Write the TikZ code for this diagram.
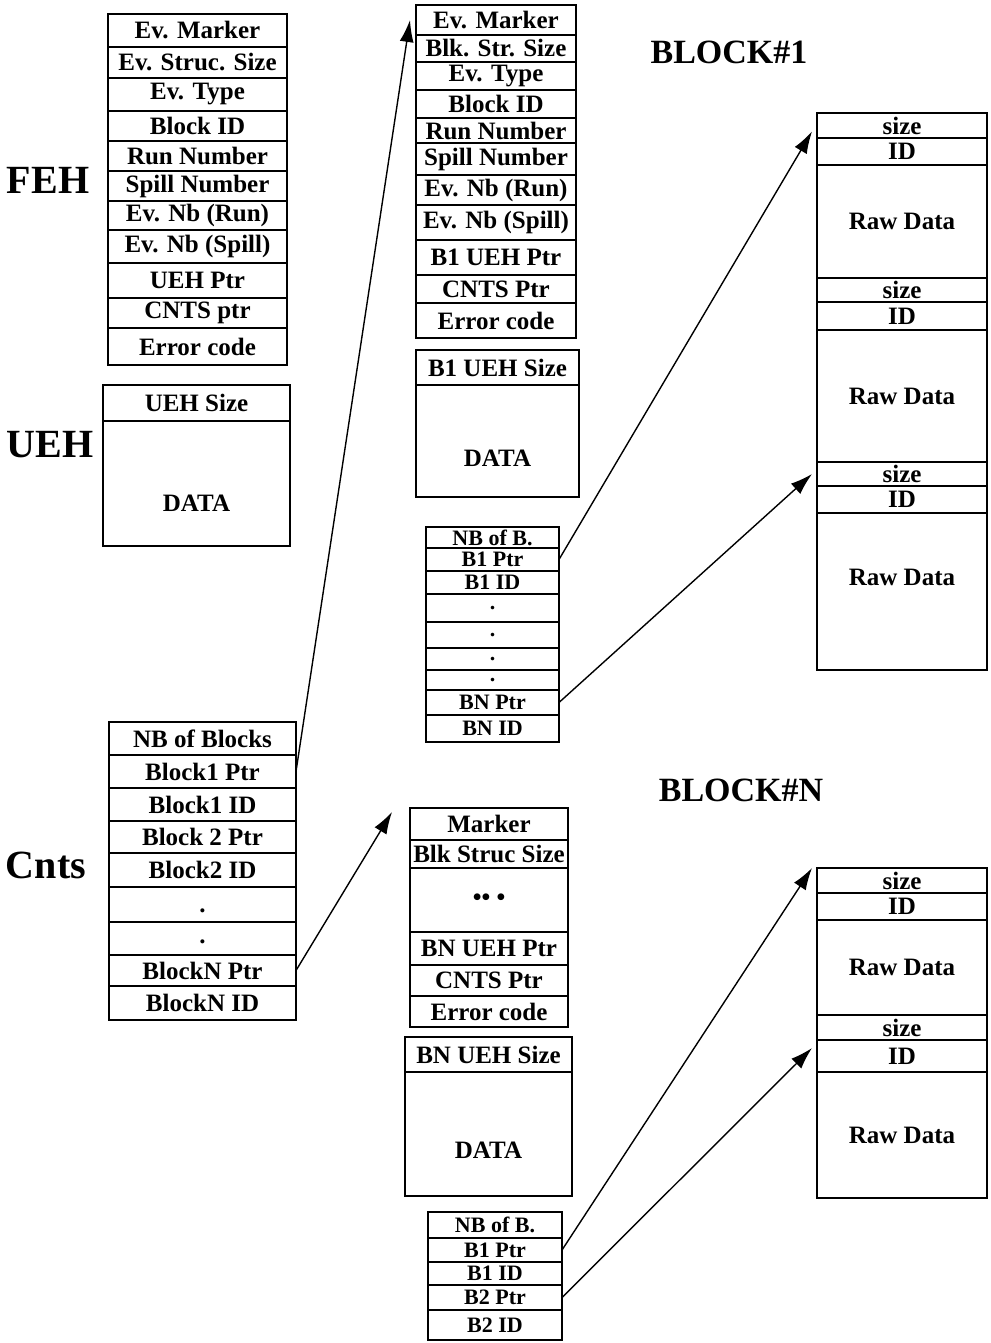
\documentclass[tikz,border=0pt]{standalone}
\usepackage{fontspec}
\setmainfont{Liberation Serif}
\usetikzlibrary{arrows.meta}

\tikzset{
  cell/.style={draw, line width=1.6pt, anchor=north west, inner sep=0pt, outer sep=0pt,
    font=\bfseries\fontsize{25}{25}\selectfont},
  ptrcell/.style={cell, font=\bfseries\fontsize{22}{22}\selectfont},
  txt/.style={font=\bfseries\fontsize{25}{25}\selectfont},
  title/.style={font=\bfseries\fontsize{40}{40}\selectfont},
  blktitle/.style={font=\bfseries\fontsize{34}{34}\selectfont},
}

\begin{document}
\begin{tikzpicture}[x=1pt, y=-1pt, >={Latex[length=22pt,width=14pt]}, line width=1.4pt]
  \useasboundingbox (0,0) rectangle (990,1343);

  % titles
  \node[title] (fehlbl) at (48,180) {FEH};
  \node[title] (uehlbl) at (50,445) {UEH};
  \node[title] (cntslbl) at (46,865) {Cnts};
  \node[blktitle] (blk1lbl) at (729,52) {BLOCK\#1};
  \node[blktitle] (blknlbl) at (741,790) {BLOCK\#N};

  % FEH
  \node[cell, minimum width=179pt, minimum height=33pt] (feh1) at (108,14) {Ev. Marker};
  \node[cell, minimum width=179pt, minimum height=31pt] (feh2) at (108,47) {Ev. Struc. Size};
  \node[cell, minimum width=179pt, minimum height=33pt] (feh3) at (108,78) {Ev. Type};
  \node[cell, minimum width=179pt, minimum height=30pt] (feh4) at (108,111) {Block ID};
  \node[cell, minimum width=179pt, minimum height=30pt] (feh5) at (108,141) {Run Number};
  \node[cell, minimum width=179pt, minimum height=30pt] (feh6) at (108,171) {Spill Number};
  \node[cell, minimum width=179pt, minimum height=29pt] (feh7) at (108,201) {Ev. Nb (Run)};
  \node[cell, minimum width=179pt, minimum height=33pt] (feh8) at (108,230) {Ev. Nb (Spill)};
  \node[cell, minimum width=179pt, minimum height=35pt] (feh9) at (108,263) {UEH Ptr};
  \node[cell, minimum width=179pt, minimum height=30pt] (feh10) at (108,298) {CNTS ptr};
  \node[cell, minimum width=179pt, minimum height=37pt] (feh11) at (108,328) {Error code};

  % UEH
  \node[cell, minimum width=187pt, minimum height=36pt] (ueh1) at (103,385) {UEH Size};
  \node[cell, minimum width=187pt, minimum height=125pt,
        label={[txt,yshift=-20pt]center:DATA}] (ueh2) at (103,421) {};

  % Cnts
  \node[cell, minimum width=187pt, minimum height=33pt] (cnts1) at (109,722) {NB of Blocks};
  \node[cell, minimum width=187pt, minimum height=33pt] (cnts2) at (109,755) {Block1 Ptr};
  \node[cell, minimum width=187pt, minimum height=33pt] (cnts3) at (109,788) {Block1 ID};
  \node[cell, minimum width=187pt, minimum height=32pt] (cnts4) at (109,821) {Block 2 Ptr};
  \node[cell, minimum width=187pt, minimum height=34pt] (cnts5) at (109,853) {Block2 ID};
  \node[cell, minimum width=187pt, minimum height=35pt,
        label={[txt,yshift=-6pt]center:.}] (cnts6) at (109,887) {};
  \node[cell, minimum width=187pt, minimum height=33pt,
        label={[txt,yshift=-3pt]center:.}] (cnts7) at (109,922) {};
  \node[cell, minimum width=187pt, minimum height=31pt] (cnts8) at (109,955) {BlockN Ptr};
  \node[cell, minimum width=187pt, minimum height=34pt] (cnts9) at (109,986) {BlockN ID};

  % block 1 header
  \node[cell, minimum width=160pt, minimum height=30pt] (b1h1) at (416,5) {Ev. Marker};
  \node[cell, minimum width=160pt, minimum height=27pt] (b1h2) at (416,35) {Blk. Str. Size};
  \node[cell, minimum width=160pt, minimum height=28pt] (b1h3) at (416,62) {Ev. Type};
  \node[cell, minimum width=160pt, minimum height=28pt] (b1h4) at (416,90) {Block ID};
  \node[cell, minimum width=160pt, minimum height=25pt] (b1h5) at (416,118) {Run Number};
  \node[cell, minimum width=160pt, minimum height=32pt] (b1h6) at (416,143) {Spill Number};
  \node[cell, minimum width=160pt, minimum height=30pt] (b1h7) at (416,175) {Ev. Nb (Run)};
  \node[cell, minimum width=160pt, minimum height=35pt] (b1h8) at (416,205) {Ev. Nb (Spill)};
  \node[cell, minimum width=160pt, minimum height=35pt] (b1h9) at (416,240) {B1 UEH Ptr};
  \node[cell, minimum width=160pt, minimum height=28pt] (b1h10) at (416,275) {CNTS Ptr};
  \node[cell, minimum width=160pt, minimum height=35pt] (b1h11) at (416,303) {Error code};

  \node[cell, minimum width=163pt, minimum height=35pt] (b1u1) at (416,350) {B1 UEH Size};
  \node[cell, minimum width=163pt, minimum height=112pt,
        label={[txt,yshift=-17pt]center:DATA}] (b1u2) at (416,385) {};

  % block 1 pointers
  \node[ptrcell, minimum width=133pt, minimum height=21pt] (b1p1) at (426,527) {NB of B.};
  \node[ptrcell, minimum width=133pt, minimum height=23pt] (b1p2) at (426,548) {B1 Ptr};
  \node[ptrcell, minimum width=133pt, minimum height=23pt] (b1p3) at (426,571) {B1 ID};
  \node[ptrcell, minimum width=133pt, minimum height=28pt] (b1p4) at (426,594) {.};
  \node[ptrcell, minimum width=133pt, minimum height=26pt] (b1p5) at (426,622) {.};
  \node[ptrcell, minimum width=133pt, minimum height=22pt] (b1p6) at (426,648) {.};
  \node[ptrcell, minimum width=133pt, minimum height=20pt] (b1p7) at (426,670) {.};
  \node[ptrcell, minimum width=133pt, minimum height=25pt] (b1p8) at (426,690) {BN Ptr};
  \node[ptrcell, minimum width=133pt, minimum height=27pt] (b1p9) at (426,715) {BN ID};

  % block 1 raw data
  \node[cell, minimum width=170pt, minimum height=25pt] (r1s1) at (817,113) {size};
  \node[cell, minimum width=170pt, minimum height=27pt] (r1i1) at (817,138) {ID};
  \node[cell, minimum width=170pt, minimum height=113pt] (r1d1) at (817,165) {Raw Data};
  \node[cell, minimum width=170pt, minimum height=24pt] (r1s2) at (817,278) {size};
  \node[cell, minimum width=170pt, minimum height=28pt] (r1i2) at (817,302) {ID};
  \node[cell, minimum width=170pt, minimum height=132pt] (r1d2) at (817,330) {Raw Data};
  \node[cell, minimum width=170pt, minimum height=24pt] (r1s3) at (817,462) {size};
  \node[cell, minimum width=170pt, minimum height=27pt] (r1i3) at (817,486) {ID};
  \node[cell, minimum width=170pt, minimum height=157pt,
        label={[txt,yshift=14pt]center:Raw Data}] (r1d3) at (817,513) {};

  % block N header
  \node[cell, minimum width=158pt, minimum height=32pt] (bnh1) at (410,808) {Marker};
  \node[cell, minimum width=158pt, minimum height=28pt] (bnh2) at (410,840) {Blk Struc Size};
  \node[cell, minimum width=158pt, minimum height=64pt] (bnh3) at (410,868) {•• •};
  \node[cell, minimum width=158pt, minimum height=33pt] (bnh4) at (410,932) {BN UEH Ptr};
  \node[cell, minimum width=158pt, minimum height=31pt] (bnh5) at (410,965) {CNTS Ptr};
  \node[cell, minimum width=158pt, minimum height=31pt] (bnh6) at (410,996) {Error code};

  \node[cell, minimum width=167pt, minimum height=35pt] (bnu1) at (405,1037) {BN UEH Size};
  \node[cell, minimum width=167pt, minimum height=124pt,
        label={[txt,yshift=-16pt]center:DATA}] (bnu2) at (405,1072) {};

  % block N pointers
  \node[ptrcell, minimum width=134pt, minimum height=26pt] (bnp1) at (428,1212) {NB of B.};
  \node[ptrcell, minimum width=134pt, minimum height=24pt] (bnp2) at (428,1238) {B1 Ptr};
  \node[ptrcell, minimum width=134pt, minimum height=23pt] (bnp3) at (428,1262) {B1 ID};
  \node[ptrcell, minimum width=134pt, minimum height=25pt] (bnp4) at (428,1285) {B2 Ptr};
  \node[ptrcell, minimum width=134pt, minimum height=30pt] (bnp5) at (428,1310) {B2 ID};

  % block N raw data
  \node[cell, minimum width=170pt, minimum height=25pt] (rns1) at (817,868) {size};
  \node[cell, minimum width=170pt, minimum height=27pt] (rni1) at (817,893) {ID};
  \node[cell, minimum width=170pt, minimum height=95pt] (rnd1) at (817,920) {Raw Data};
  \node[cell, minimum width=170pt, minimum height=25pt] (rns2) at (817,1015) {size};
  \node[cell, minimum width=170pt, minimum height=32pt] (rni2) at (817,1040) {ID};
  \node[cell, minimum width=170pt, minimum height=126pt] (rnd2) at (817,1072) {Raw Data};

  % pointers
  \draw[->] (cnts2.east) -- ([xshift=-6pt]b1h1.west);
  \draw[->] (cnts8.east) -- ([xshift=-18pt,yshift=-4pt]bnh1.north west);
  \draw[->] (b1p2.east) -- ([xshift=-5pt,yshift=-6pt]r1s1.west);
  \draw[->] (b1p8.east) -- ([xshift=-5pt]r1s3.west);
  \draw[->] (bnp2.east) -- ([xshift=-5pt]rns1.north west);
  \draw[->] (bnp4.east) -- ([xshift=-5pt,yshift=8pt]rni2.west);
\end{tikzpicture}
\end{document}
